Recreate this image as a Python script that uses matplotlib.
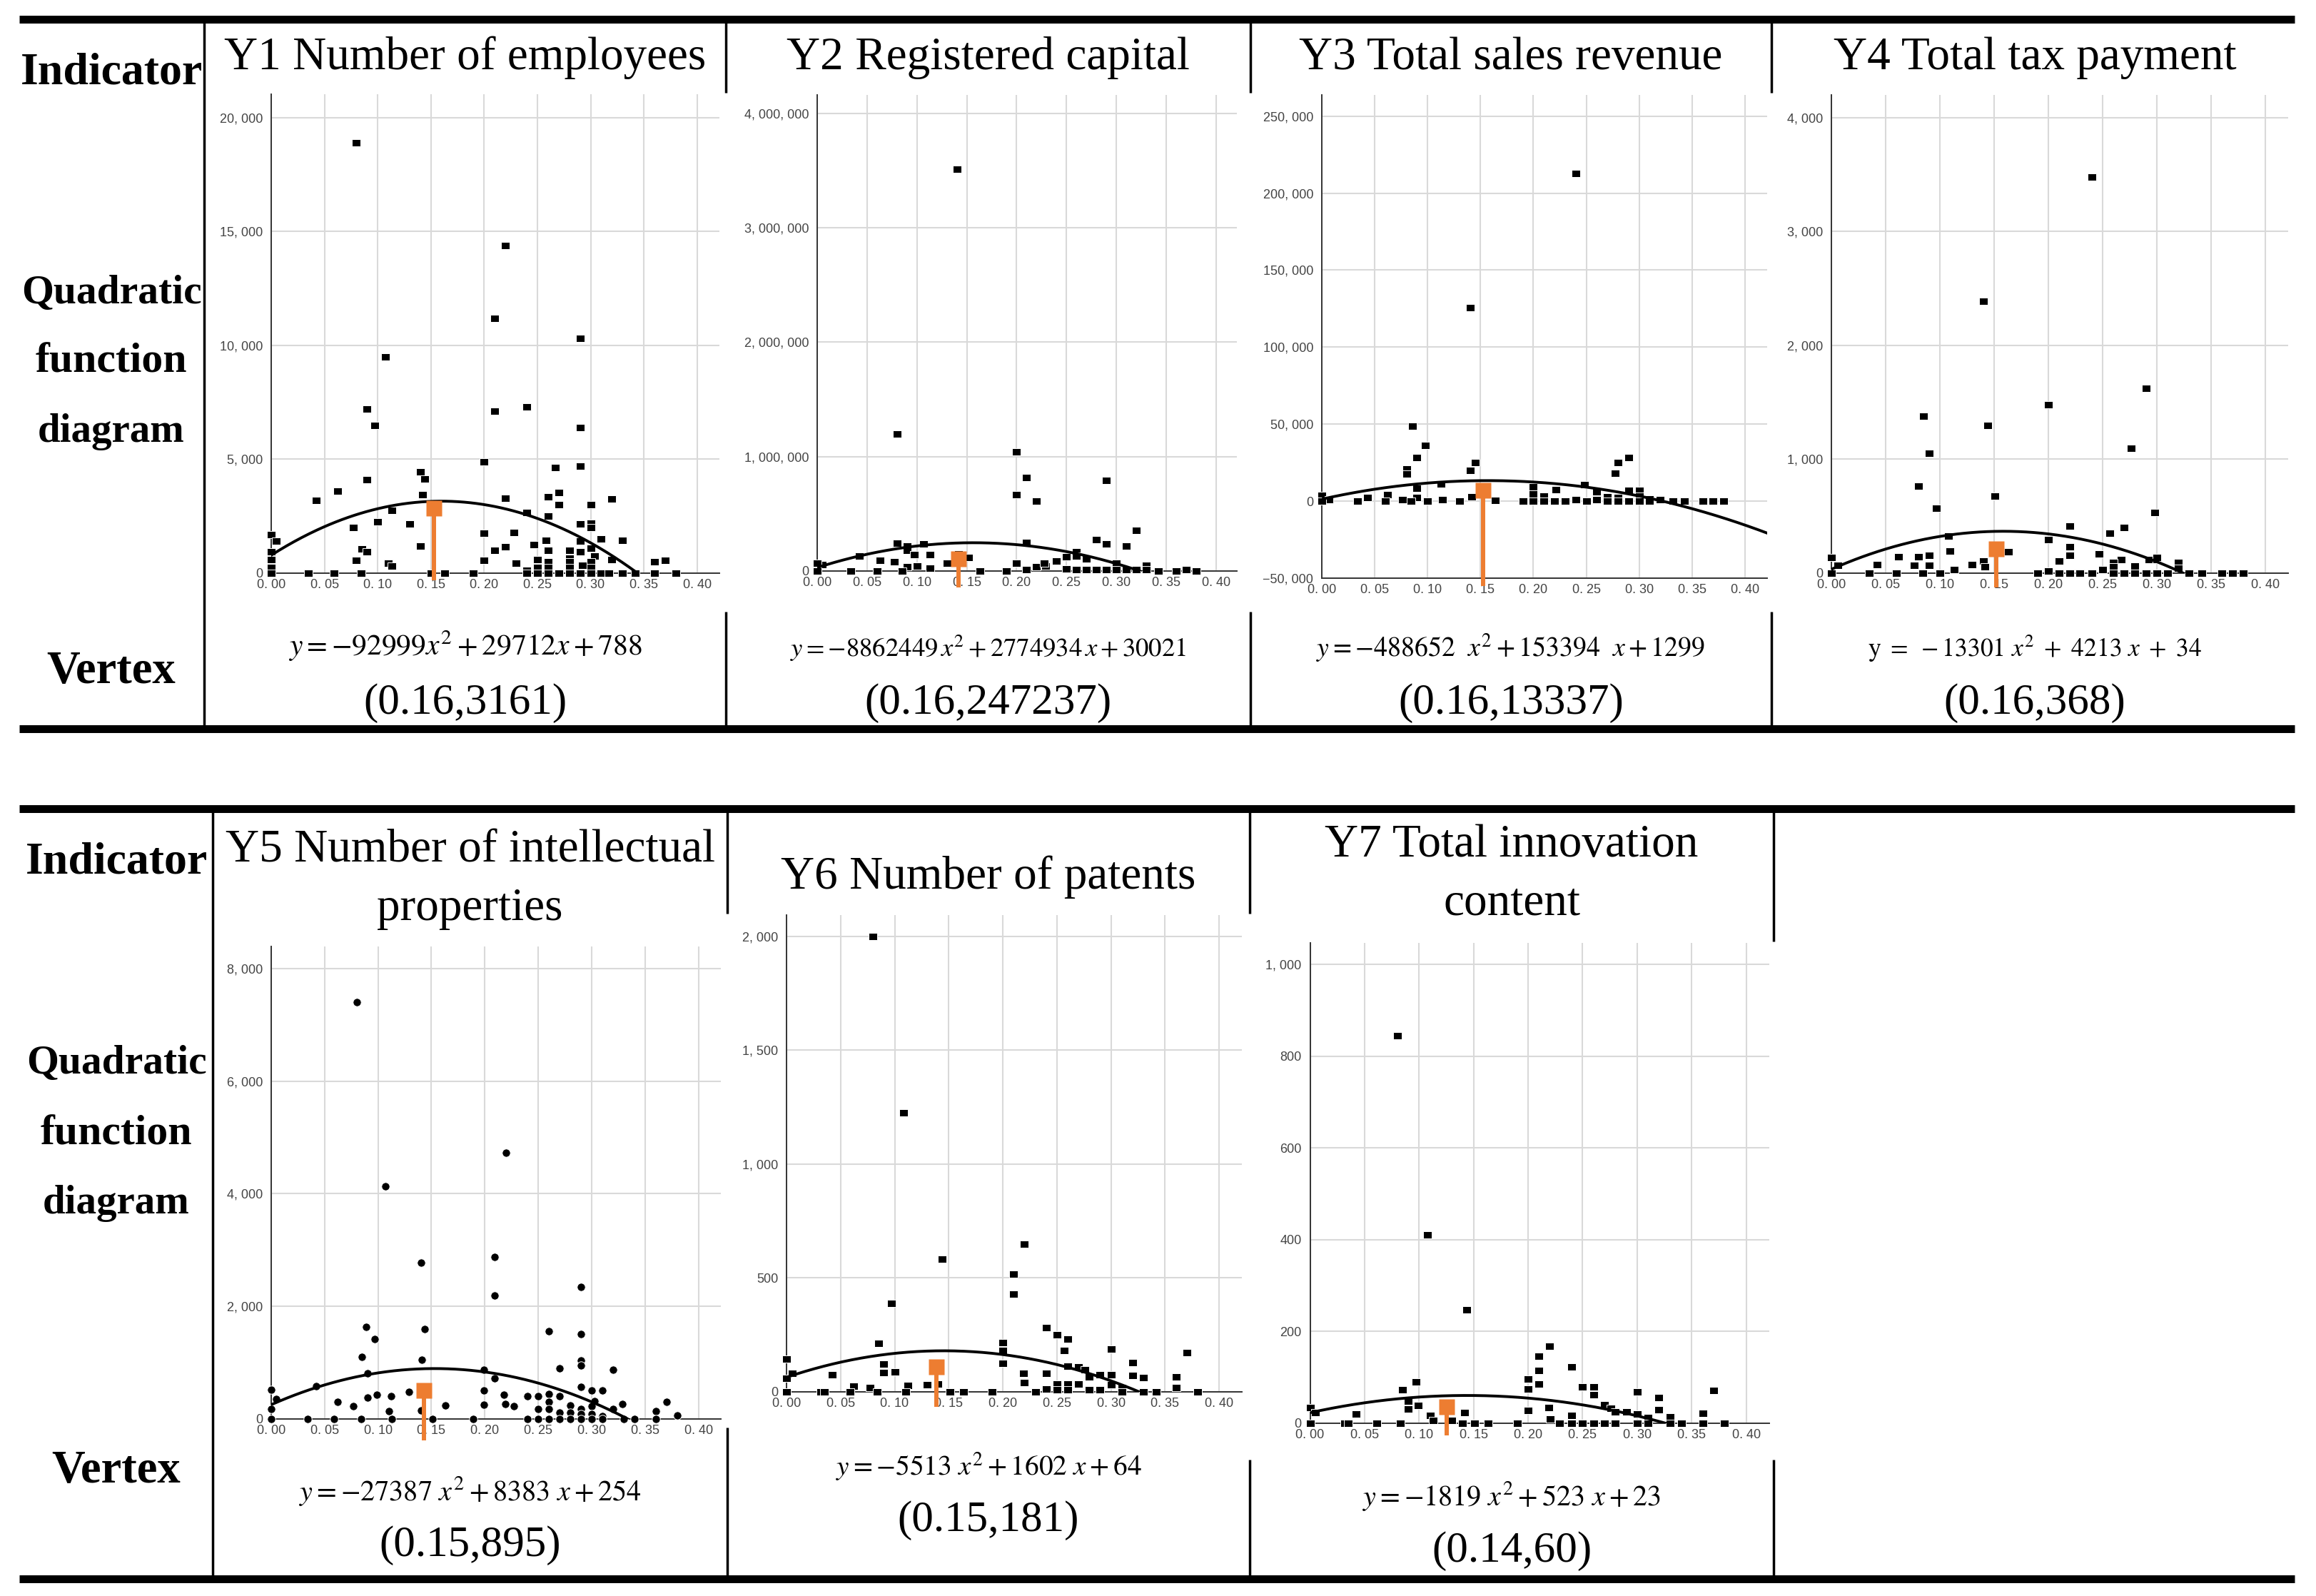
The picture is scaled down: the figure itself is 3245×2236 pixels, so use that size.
import numpy as np
import matplotlib
matplotlib.use("Agg")
import matplotlib.pyplot as plt
from matplotlib.ticker import FixedLocator, FuncFormatter

# ---------------- values ----------------
titles = [["Y1 Number of employees"], ["Y2 Registered capital"], ["Y3 Total sales revenue"],
          ["Y4 Total tax payment"], ["Y5 Number of intellectual", "properties"],
          ["Y6 Number of patents"], ["Y7 Total innovation", "content"]]
row_labels = ["Indicator", "Quadratic", "function", "diagram", "Vertex"]

coef_a = [-92999, -8862449, -488652, -13301, -27387, -5513, -1819]
coef_b = [29712, 2774934, 153394, 4213, 8383, 1602, 523]
coef_c = [788, 30021, 1299, 34, 254, 64, 23]
equations = [r"$y=-92999x^2+29712x+788$",
             r"$y=-8862449\,x^2+2774934\,x+30021$",
             r"$y=-488652\ \ x^2+153394\ \ x+1299$",
             r"$\mathrm{y}\ =\ -13301\ x^2\ +\ 4213\ x\ +\ 34$",
             r"$y=-27387\ x^2+8383\ x+254$",
             r"$y=-5513\ x^2+1602\ x+64$",
             r"$y=-1819\ x^2+523\ x+23$"]
vertices = ["(0.16,3161)", "(0.16,247237)", "(0.16,13337)", "(0.16,368)",
            "(0.15,895)", "(0.15,181)", "(0.14,60)"]

y1_pts = [(0.08, 18900), (0.22, 14400), (0.21, 11200), (0.29, 10300), (0.107, 9500), (0.09, 7200),
          (0.21, 7100), (0.24, 7300), (0.0975, 6500), (0.29, 6400), (0.20, 4900), (0.267, 4650),
          (0.29, 4700), (0.09, 4100), (0.14, 4450), (0.144, 4150), (0.0625, 3600), (0.042, 3200),
          (0.142, 3450), (0.22, 3300), (0.27, 3550), (0.26, 3350), (0.27, 3000), (0.30, 3000),
          (0.32, 3250), (0.113, 2750), (0.24, 2650), (0.26, 2500), (0.10, 2250), (0.13, 2150),
          (0.077, 2000), (0.29, 2150), (0.30, 2200), (0.30, 2000), (0.0, 1700), (0.005, 1400),
          (0.20, 1750), (0.228, 1800), (0.31, 1500), (0.33, 1450), (0.258, 1450), (0.29, 1400),
          (0.14, 1200), (0.247, 1250), (0.22, 1150), (0.21, 1000), (0.085, 1050), (0.09, 950),
          (0.26, 1000), (0.28, 1000), (0.29, 950), (0.30, 1100), (0.304, 750), (0.08, 550),
          (0.11, 450), (0.113, 300), (0.20, 550), (0.23, 450), (0.25, 600), (0.26, 500),
          (0.26, 250), (0.28, 650), (0.28, 500), (0.28, 250), (0.292, 330), (0.30, 500),
          (0.30, 250), (0.32, 600), (0.36, 500), (0.37, 550), (0.25, 250), (0.24, 130),
          (0.0, 950), (0.0, 600), (0.0, 250)]
y1_zero = [0.0, 0.035, 0.059, 0.0845, 0.15, 0.163, 0.19, 0.24, 0.25, 0.26, 0.27, 0.28, 0.29,
           0.30, 0.31, 0.317, 0.33, 0.342, 0.36, 0.38]

y2_pts = [(0.14, 3510000), (0.08, 1200000), (0.20, 1040000), (0.21, 820000), (0.20, 670000),
          (0.22, 610000), (0.29, 790000), (0.32, 355000), (0.28, 275000), (0.29, 234000),
          (0.31, 221000), (0.08, 242000), (0.09, 221000), (0.09, 180000), (0.107, 238000),
          (0.0975, 146000), (0.113, 142000), (0.042, 133000), (0.063, 96000), (0.077, 83000),
          (0.005, 58000), (0.0, 67000), (0.13, 71000), (0.152, 121000), (0.142, 150000),
          (0.21, 250000), (0.20, 67000), (0.22, 40000), (0.229, 42000), (0.228, 67000),
          (0.24, 88000), (0.25, 125000), (0.26, 171000), (0.26, 129000), (0.27, 108000),
          (0.30, 67000), (0.33, 50000), (0.09, 38000), (0.10, 46000), (0.113, 25000),
          (0.21, 10000), (0.25, 20000), (0.26, 15000), (0.27, 15000), (0.28, 10000),
          (0.29, 10000), (0.30, 10000), (0.31, 10000), (0.32, 10000), (0.33, 10000), (0.37, 10000)]
y2_zero = [0.0, 0.034, 0.06, 0.085, 0.163, 0.19, 0.342, 0.36, 0.38]

y3_pts = [(0.24, 213000), (0.14, 125600), (0.086, 48800), (0.098, 36400), (0.09, 28300),
          (0.08, 20800), (0.08, 17700), (0.145, 24900), (0.14, 19900), (0.28, 24900),
          (0.277, 18000), (0.29, 28300), (0.113, 11200), (0.09, 8400), (0.248, 10600),
          (0.20, 9300), (0.20, 4700), (0.221, 7500), (0.21, 3100), (0.26, 6200), (0.29, 6800),
          (0.30, 6800), (0.0, 3700), (0.0065, 1200), (0.043, 2200), (0.062, 4000), (0.076, 1200),
          (0.09, 2200), (0.142, 2800), (0.114, 1200), (0.164, 600), (0.24, 1200), (0.26, 1200),
          (0.32, 1200), (0.27, 3000), (0.28, 2500), (0.30, 3500), (0.31, 1500)]
y3_zero = [0.0, 0.034, 0.06, 0.084, 0.10, 0.13, 0.19, 0.20, 0.21, 0.22, 0.23, 0.25, 0.27, 0.28,
           0.29, 0.30, 0.31, 0.332, 0.3425, 0.36, 0.37, 0.38]

y4_pts = [(0.24, 3480), (0.14, 2390), (0.29, 1620), (0.20, 1480), (0.085, 1380), (0.144, 1300),
          (0.09, 1050), (0.2765, 1094), (0.08, 767), (0.151, 679), (0.097, 570), (0.298, 532),
          (0.22, 415), (0.27, 402), (0.257, 348), (0.108, 323), (0.20, 293), (0.163, 189),
          (0.109, 197), (0.22, 231), (0.22, 159), (0.247, 168), (0.0, 138), (0.006, 67),
          (0.042, 75), (0.062, 143), (0.0765, 67), (0.08, 143), (0.09, 159), (0.09, 67),
          (0.13, 75), (0.14, 105), (0.1415, 55), (0.21, 105), (0.267, 117), (0.26, 96),
          (0.26, 55), (0.28, 63), (0.293, 117), (0.30, 117), (0.30, 138), (0.32, 96),
          (0.32, 42), (0.25, 34), (0.113, 34), (0.20, 21)]
y4_zero = [0.0, 0.035, 0.06, 0.084, 0.10, 0.19, 0.21, 0.22, 0.229, 0.24, 0.26, 0.27, 0.28,
           0.29, 0.30, 0.31, 0.33, 0.342, 0.36, 0.37, 0.38]

y5_pts = [(0.08, 7400), (0.107, 4130), (0.22, 4730), (0.14, 2780), (0.209, 2880), (0.209, 2190),
          (0.29, 2340), (0.089, 1640), (0.26, 1560), (0.29, 1510), (0.144, 1600), (0.097, 1420),
          (0.085, 1100), (0.141, 1050), (0.29, 1040), (0.29, 950), (0.27, 900), (0.32, 870),
          (0.09, 810), (0.199, 880), (0.209, 720), (0.042, 580), (0.199, 510), (0.29, 570),
          (0.30, 510), (0.31, 510), (0.218, 430), (0.129, 480), (0.099, 430), (0.112, 400),
          (0.09, 380), (0.24, 400), (0.25, 410), (0.26, 450), (0.27, 400), (0.0, 520),
          (0.0045, 360), (0.062, 310), (0.303, 320), (0.329, 270), (0.37, 310), (0.077, 225),
          (0.163, 245), (0.199, 250), (0.219, 270), (0.227, 225), (0.25, 180), (0.26, 310),
          (0.26, 180), (0.28, 245), (0.29, 180), (0.30, 225), (0.32, 180), (0.36, 135),
          (0.11, 135), (0.14, 155), (0.0, 180), (0.27, 120), (0.28, 120), (0.29, 90),
          (0.30, 90), (0.31, 50), (0.38, 63)]
y5_zero = [0.0, 0.034, 0.059, 0.084, 0.113, 0.151, 0.189, 0.24, 0.25, 0.26, 0.27, 0.28, 0.29,
           0.30, 0.31, 0.33, 0.34, 0.36]

y6_pts = [(0.08, 2000), (0.108, 1225), (0.144, 583), (0.22, 650), (0.21, 516), (0.21, 431),
          (0.097, 388), (0.085, 212), (0.09, 121), (0.09, 85), (0.10, 87), (0.24, 281),
          (0.25, 250), (0.26, 232), (0.257, 181), (0.26, 114), (0.20, 217), (0.20, 181),
          (0.20, 125), (0.30, 188), (0.37, 172), (0.32, 129), (0.32, 71), (0.33, 62),
          (0.36, 65), (0.36, 18), (0.27, 109), (0.276, 96), (0.28, 65), (0.29, 76), (0.30, 74),
          (0.30, 31), (0.219, 80), (0.22, 40), (0.24, 80), (0.24, 13), (0.25, 36), (0.25, 10),
          (0.26, 36), (0.26, 8), (0.27, 36), (0.28, 10), (0.29, 8), (0.31, 18), (0.0, 143),
          (0.0, 58), (0.0056, 80), (0.042, 74), (0.062, 25), (0.0775, 18), (0.112, 29),
          (0.13, 31), (0.14, 36)]
y6_zero = [0.0, 0.032, 0.035, 0.059, 0.084, 0.11, 0.151, 0.1635, 0.19, 0.23, 0.31, 0.33,
           0.3415, 0.38]

y7_pts = [(0.08, 845), (0.1075, 411), (0.1436, 248), (0.2195, 168), (0.21, 146), (0.21, 115),
          (0.21, 85), (0.20, 96), (0.20, 75), (0.20, 28), (0.24, 123), (0.25, 79), (0.26, 79),
          (0.26, 62), (0.30, 69), (0.37, 72), (0.32, 56), (0.32, 29), (0.097, 91), (0.099, 39),
          (0.085, 73), (0.09, 31), (0.09, 48), (0.142, 24), (0.27, 40), (0.276, 33), (0.28, 25),
          (0.29, 25), (0.30, 20), (0.31, 12), (0.33, 14), (0.36, 22), (0.0, 34), (0.005, 23),
          (0.042, 21), (0.219, 35), (0.24, 17), (0.11, 17), (0.113, 6), (0.13, 7), (0.22, 9)]
y7_zero = [0.0, 0.032, 0.035, 0.061, 0.083, 0.14, 0.151, 0.163, 0.19, 0.229, 0.24, 0.25, 0.26,
           0.27, 0.28, 0.30, 0.31, 0.33, 0.341, 0.36, 0.38]

# orange vertex pins: x, centre of the square, end of the stem
pin_x = [0.1528, 0.142, 0.1525, 0.152, 0.143, 0.1383, 0.1254]
pin_y = [2837, 106000, 7150, 214, 505, 111, 35.5]
pin_end = [-313, -142000, -55000, -126, -379, -65, -27]

y_ticks = [np.arange(0, 20001, 5000), np.arange(0, 4000001, 1000000),
           np.arange(-50000, 250001, 50000), np.arange(0, 4001, 1000),
           np.arange(0, 8001, 2000), np.arange(0, 2001, 500), np.arange(0, 1001, 200)]
y_lims = [(0, 21030), (0, 4165000), (-50000, 264000), (0, 4201), (0, 8393), (0, 2094), (0, 1047)]
x_ticks = np.arange(0, 0.401, 0.05)

all_pts = [y1_pts, y2_pts, y3_pts, y4_pts, y5_pts, y6_pts, y7_pts]
all_zero = [y1_zero, y2_zero, y3_zero, y4_zero, y5_zero, y6_zero, y7_zero]

# ---------------- layout (pixels of the 3245x2236 picture) ----------------
W, H = 3245, 2236
boxes = [(380, 132, 1008, 803), (1145, 132.5, 1733, 800), (1852, 132.5, 2476, 810),
         (2566, 132.5, 3205.5, 803), (380, 1326, 1010, 1988), (1102, 1282, 1740, 1950),
         (1835.5, 1321, 2478.7, 1994)]
cell_cx = [651.5, 1384.5, 2117, 2851, 658.5, 1385, 2118]
title_base = [[97], [97], [97], [97], [1207, 1289], [1245], [1200, 1282]]
eq_base = [918, 920, 920, 920, 2102, 2067, 2109]
vx_base = [1000, 1000, 1000, 1000, 2180, 2145, 2188]
eq_size = [30, 26.5, 27.3, 25.6, 29, 28.3, 29]
row_size = [46, 41.5, 43, 41, 46.5]

# square points of the source charts are a little wider than tall
rect = [(-1, -0.82), (1, -0.82), (1, 0.82), (-1, 0.82), (-1, -0.82)]
markers = [(rect, 8.6), (rect, 8.6), (rect, 8.6), (rect, 8.6), ("o", 8.2), (rect, 8.6), (rect, 8.6)]

plt.rcParams["font.family"] = "Liberation Serif"
plt.rcParams["mathtext.fontset"] = "stix"

fig = plt.figure(figsize=(W / 100, H / 100), dpi=100)
bg = fig.add_axes([0, 0, 1, 1])
bg.set_xlim(0, W)
bg.set_ylim(H, 0)
bg.axis("off")

# table rules
for y_rule in (27, 1021, 1133, 2212):
    bg.plot([27, 3215], [y_rule, y_rule], color="black", lw=7.9, solid_capstyle="butt")
# vertical separators: (x, top, bottom, gaps hidden behind the chart pictures)
seps = [(286, 27, 1021, []), (1017, 27, 1021, [(130, 857)]), (1752, 27, 1021, [(130, 857)]),
        (2482, 27, 1021, [(130, 857)]), (298, 1133, 2212, []), (1019, 1133, 2212, [(1280, 2000)]),
        (1751, 1133, 2212, [(1280, 2045)]), (2485, 1133, 2212, [(1319, 2045)])]
for x_s, t, b, gaps in seps:
    pts = [t]
    for g0, g1 in gaps:
        pts += [g0, g1]
    pts.append(b)
    for k in range(0, len(pts), 2):
        bg.plot([x_s, x_s], [pts[k], pts[k + 1]], color="black", lw=2.5, solid_capstyle="butt")

# row labels
row_x = [156, 163]
row_base = [[117, 425, 522, 619, 957], [1223, 1504, 1604, 1700, 2077]]
for r in range(2):
    for lab, yb, fs in zip(row_labels, row_base[r], row_size):
        bg.text(row_x[r], yb, lab, ha="center", va="baseline", fontsize=fs, fontweight="bold")

# texts in cells
for i in range(7):
    for line, yb in zip(titles[i], title_base[i]):
        bg.text(cell_cx[i], yb, line, ha="center", va="baseline", fontsize=47)
    bg.text(cell_cx[i], eq_base[i], equations[i], ha="center", va="baseline", fontsize=eq_size[i])
    bg.text(cell_cx[i], vx_base[i], vertices[i], ha="center", va="baseline", fontsize=44)


def y_fmt(v, pos):
    return f"{int(round(v)):,}".replace(",", ", ").replace("-", "\u2212")


def x_fmt(v, pos):
    return f"{v:.2f}".replace(".", ". ")


orange = "#ED7D31"
for i in range(7):
    l, t, r, b = boxes[i]
    ax = fig.add_axes([l / W, 1 - b / H, (r - l) / W, (b - t) / H])
    ax.set_xlim(0, 0.421)
    ax.set_ylim(*y_lims[i])
    ax.xaxis.set_major_locator(FixedLocator(x_ticks))
    ax.yaxis.set_major_locator(FixedLocator(y_ticks[i]))
    ax.xaxis.set_major_formatter(FuncFormatter(x_fmt))
    ax.yaxis.set_major_formatter(FuncFormatter(y_fmt))
    ax.grid(True, color="#d9d9d9", lw=1.5, zorder=0)
    ax.set_axisbelow(True)
    for side in ("top", "right"):
        ax.spines[side].set_visible(False)
    for side in ("left", "bottom"):
        ax.spines[side].set_color("#333333")
        ax.spines[side].set_linewidth(1.4)
    ax.tick_params(length=0, labelsize=13, labelcolor="#444444")
    ax.tick_params(axis="y", pad=8.5)
    ax.tick_params(axis="x", pad=6)
    for lab in ax.get_xticklabels() + ax.get_yticklabels():
        lab.set_family("Liberation Sans")

    px = [p[0] for p in all_pts[i]] + all_zero[i]
    py = [p[1] for p in all_pts[i]] + [0] * len(all_zero[i])
    mk, ms = markers[i]
    ax.plot(px, py, ls="none", marker=mk, ms=ms, color="black",
            mec="white", mew=0.7, clip_on=False, zorder=3)

    xs = np.linspace(0, 0.43, 300)
    ax.plot(xs, coef_a[i] * xs ** 2 + coef_b[i] * xs + coef_c[i], color="black", lw=2.8, zorder=4)

    ax.plot([pin_x[i], pin_x[i]], [pin_y[i], pin_end[i]], color=orange, lw=4.3,
            solid_capstyle="butt", clip_on=False, zorder=5)
    ax.plot(pin_x[i], pin_y[i], marker="s", ms=16, color=orange, mec="none",
            clip_on=False, zorder=6)

fig.savefig("out.png", dpi=100, facecolor="white")
